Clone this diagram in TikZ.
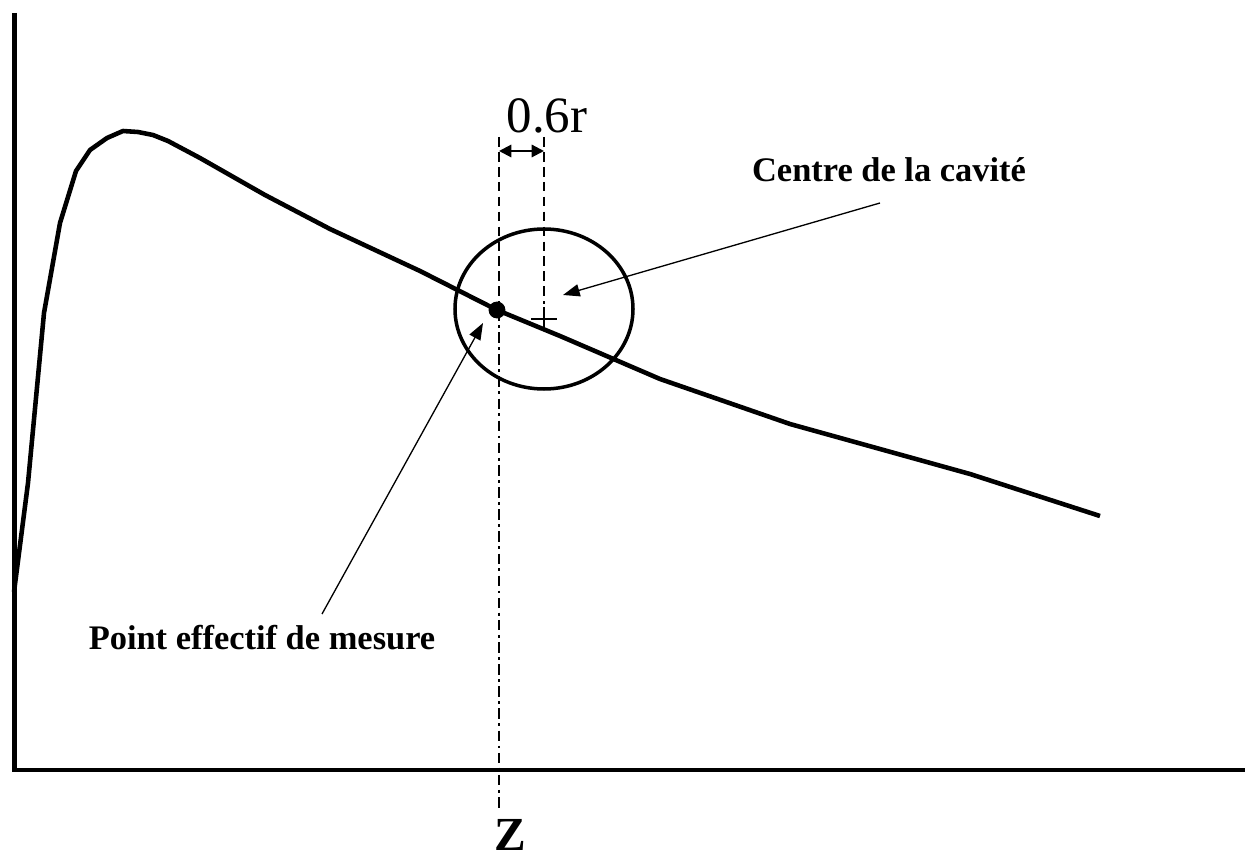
\documentclass[tikz,border=0pt]{standalone}
\usepackage{fontspec}
\setmainfont{Liberation Serif}
\usetikzlibrary{arrows.meta}
\begin{document}
\begin{tikzpicture}[x=0.02cm,y=-0.02cm,
  axis/.style={line width=2.8pt},
  curve/.style={line width=2.6pt,line join=round},
  cavity/.style={line width=2pt},
  guide/.style={line width=1.1pt,dash pattern=on 5.5pt off 3pt},
  guidedd/.style={line width=1.1pt,dash pattern=on 6pt off 2.5pt on 1.6pt off 2.5pt},
  pointer/.style={line width=0.75pt,-{Triangle[length=9.5pt,width=7pt]}},
  dimarrow/.style={line width=1.2pt,{Triangle[length=7pt,width=7pt]}-{Triangle[length=7pt,width=7pt]}},
  lbl/.style={font=\fontsize{19.6pt}{22pt}\selectfont\bfseries,anchor=base,inner sep=0pt}]
\useasboundingbox (0,0) rectangle (1245,861);
% axes
\coordinate (O) at (14.5,770);
\coordinate (Ytop) at (14.5,13);
\coordinate (Xend) at (1245,770);
\draw[axis] (Ytop) -- (O) -- (Xend);
% curve
\draw[curve] (14,592) -- (28,483) -- (44,313) -- (60,223) -- (76,171) -- (90,150) -- (107,138) -- (123,131) -- (138,132) -- (153,135) -- (168,141) -- (200,158) -- (265,195) -- (330,229) -- (420,271) -- (497,310) -- (560,336) -- (660,379) -- (790,424) -- (970,474) -- (1100,516);
% cavity
\draw[cavity] (544,309) ellipse [x radius=89, y radius=80];
% effective point
\node[circle,fill=black,inner sep=0pt,minimum size=9.6pt] (P) at (497,310) {};
% centre plus
\coordinate (C) at (544,319);
\draw[line width=1pt] (531,319) -- (557,319) (544,307) -- (544,331);
% guide lines
\coordinate (Lt) at (499,137);
\coordinate (Lm) at (499,310);
\coordinate (Lb) at (499,808);
\coordinate (Rt) at (544,137);
\coordinate (Rb) at (544,304);
\draw[guide] (Lt) -- (Lm);
\draw[guidedd] (Lm) -- (Lb);
\draw[guide] (Rt) -- (Rb);
% dimension
\coordinate (D1) at (499,151);
\coordinate (D2) at (544,151);
\draw[dimarrow] (D1) -- (D2);
\node[font=\fontsize{29pt}{32pt}\selectfont,anchor=base,inner sep=0pt] (dim) at (547,133) {0.6r};
% labels
\node[lbl] (centre) at (889,182) {Centre de la cavité};
\node[lbl] (point) at (262,649) {Point effectif de mesure};
\node[font=\fontsize{27pt}{30pt}\selectfont\bfseries,anchor=base,inner sep=0pt] (z) at (510,850) {Z};
% pointers
\coordinate (cs) at (880,203);
\coordinate (ct) at (563,295);
\coordinate (ps) at (322,614);
\coordinate (pt) at (483,323);
\draw[pointer] (cs) -- (ct);
\draw[pointer] (ps) -- (pt);
\end{tikzpicture}
\end{document}
